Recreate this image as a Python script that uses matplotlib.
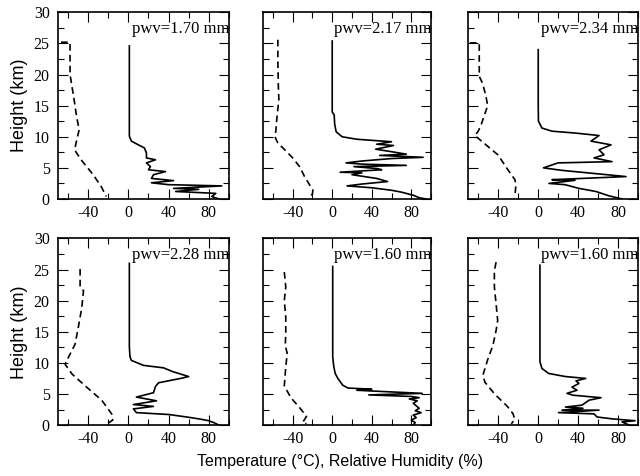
import matplotlib
matplotlib.use("Agg")
import matplotlib.pyplot as plt
from matplotlib.ticker import MultipleLocator

plt.rcParams['axes.unicode_minus'] = False

pwv_labels = ["pwv=1.70 mm", "pwv=2.17 mm", "pwv=2.34 mm",
              "pwv=2.28 mm", "pwv=1.60 mm", "pwv=1.60 mm"]

# temperature profiles (deg C) and heights (km)
temp_1 = [-67, -58, -58, -56, -54, -52, -49, -52, -53.5, -47, -35, -27, -22]
temp_h_1 = [25.2, 25.2, 20, 18, 16, 13.8, 11.1, 9.0, 7.9, 6.3, 3.9, 2.0, 0.4]
temp_2 = [-55, -55, -54.5, -54, -56, -57, -58, -55, -48, -40, -33, -28, -23, -19.6, -20, -23]
temp_h_2 = [25.6, 22, 18, 16, 13, 11, 10, 9, 7.9, 6.6, 5.2, 3.6, 2.3, 1.5, 0.8, 0.3]
temp_3 = [-68, -58.6, -58.6, -55.3, -52, -50.2, -53.6, -57, -60, -63, -40, -30, -23, -22, -23]
temp_h_3 = [25.1, 25.1, 19.7, 18.6, 16.6, 15, 13.4, 11.8, 10.8, 10.2, 7.1, 4.7, 3.1, 2.3, 0.4]
temp_4 = [-48, -48, -44.6, -46.3, -49.8, -53, -58, -63, -56, -41.5, -26.5, -16.6, -15.5, -21]
temp_h_4 = [25.1, 22.2, 21.6, 18.9, 15.7, 13.0, 11.4, 9.8, 8.2, 6.1, 4.0, 1.8, 0.8, 0.2]
temp_5 = [-48.5, -47, -48.5, -47, -47, -47.5, -45.5, -47, -48.5, -41.8, -33, -26, -30, -26]
temp_h_5 = [24.6, 22.2, 20.0, 17.4, 14.7, 12.8, 11.5, 9.4, 6.3, 4.4, 2.8, 1.4, 0.4, 0.2]
temp_6 = [-41.8, -43.5, -43.5, -41.8, -40.2, -41.8, -45, -50, -55, -53, -43.3, -30.5, -24.8, -23.2, -26.6]
temp_h_6 = [26.2, 24.8, 22.2, 19.5, 16.8, 15.2, 12.8, 10.6, 8.0, 6.9, 5.0, 3.0, 1.8, 0.9, 0.2]

# relative humidity profiles (%) and heights (km)
rh_1 = [1, 1, 3, 10, 16, 18, 18, 27, 18, 22, 20, 37, 25, 23, 45, 23, 40, 93, 45, 70, 47, 87, 83, 90]
rh_h_1 = [24.6, 10.1, 9.3, 8.7, 8.2, 7.4, 6.6, 6.3, 5.8, 5.2, 4.7, 4.4, 3.9, 3.3, 2.95, 2.6,
          2.3, 2.1, 1.7, 1.55, 1.2, 0.9, 0.4, 0]
rh_2 = [0, 0, 2, 2.5, 4, 10, 25, 60, 45, 62, 44, 60, 75, 48, 92, 60, 30, 14, 30, 75, 22, 45,
        50, 8, 30, 20, 45, 56, 30, 15, 40, 60, 70, 82, 88, 95]
rh_h_2 = [25.4, 14, 13.5, 12, 10.8, 10, 9.6, 9.2, 8.8, 8.6, 8.0, 7.6, 7.2, 7.0, 6.7, 6.5, 6.1,
          5.8, 5.6, 5.4, 5.2, 4.9, 4.7, 4.3, 4.2, 3.9, 3.3, 2.8, 2.4, 2.1, 1.8, 1.4, 1.1, 0.6,
          0.2, 0]
rh_3 = [0.3, 0.3, 0.5, 4, 14, 37, 61, 53, 73, 61, 66, 56, 74, 20, 5.5, 24, 88, 14, 37, 11, 27,
        41, 58, 71, 84]
rh_h_3 = [24.0, 14.9, 12.5, 11.4, 10.9, 10.6, 10.2, 9.3, 8.7, 7.9, 7.1, 6.6, 6.0, 5.8, 5.0,
          4.6, 3.6, 3.1, 3.0, 2.5, 2.3, 1.7, 1.2, 0.5, 0]
rh_4 = [1, 1, 1.6, 3, 15, 35, 44, 60, 52, 30, 27, 25, 8, 28, 5, 25, 5, 8, 40, 58, 70, 80, 85, 90]
rh_h_4 = [26, 12.6, 11, 10.4, 9.6, 9.2, 8.6, 7.8, 7.5, 6.8, 6.2, 5.2, 4.5, 3.9, 3.3, 3.0, 2.6,
          2.0, 1.7, 1.3, 1.0, 0.7, 0.4, 0]
rh_5 = [0.5, 0.5, 1.5, 3, 5.7, 10.7, 16, 30, 40, 25, 37, 91, 37, 80, 88, 78, 86, 82, 85, 88,
        84, 90, 82, 85, 80, 84, 82]
rh_h_5 = [25.5, 11, 9.5, 8.3, 7.5, 6.4, 5.95, 5.85, 5.75, 5.6, 5.5, 5.1, 4.85, 4.6, 4.4, 4.2,
          3.9, 3.5, 3.1, 2.7, 2.3, 2.0, 1.6, 1.2, 0.8, 0.4, 0]
rh_6 = [2, 2, 4, 10.7, 27.5, 47.7, 38, 41, 34, 39, 29, 35, 63, 51, 44, 27.5, 45, 24, 61, 20.6,
        56, 59, 74, 97, 84, 91]
rh_h_6 = [25.7, 10.2, 9.1, 8.3, 7.8, 7.5, 7.1, 6.7, 6.1, 5.6, 5.1, 4.8, 4.4, 4.0, 3.2, 2.9,
          2.7, 2.4, 2.4, 2.0, 1.8, 1.3, 1.0, 0.7, 0.5, 0]

temps = [(temp_1, temp_h_1), (temp_2, temp_h_2), (temp_3, temp_h_3),
         (temp_4, temp_h_4), (temp_5, temp_h_5), (temp_6, temp_h_6)]
rhs = [(rh_1, rh_h_1), (rh_2, rh_h_2), (rh_3, rh_h_3),
       (rh_4, rh_h_4), (rh_5, rh_h_5), (rh_6, rh_h_6)]

fig = plt.figure(figsize=(6.4, 4.76), dpi=100)

lefts = [0.0906, 0.411, 0.731]
widths = [0.267, 0.2625, 0.266]
bottoms = [0.582, 0.107]
height = 0.392

serif = 'Liberation Serif'
sans = 'Liberation Sans'

for i in range(6):
    row, col = divmod(i, 3)
    ax = fig.add_axes([lefts[col], bottoms[row], widths[col], height])
    t, th = temps[i]
    r, rh = rhs[i]
    ax.plot(t, th, color='black', lw=1.2, linestyle=(0, (4, 2.5)))
    ax.plot(r, rh, color='black', lw=1.2)
    ax.set_xlim(-70, 100)
    ax.set_ylim(0, 30)
    ax.xaxis.set_major_locator(MultipleLocator(40))
    ax.xaxis.set_minor_locator(MultipleLocator(20))
    ax.yaxis.set_major_locator(MultipleLocator(5))
    ax.yaxis.set_minor_locator(MultipleLocator(2.5))
    ax.set_xticks([-40, 0, 40, 80])
    ax.tick_params(which='both', direction='in', top=True, right=True, width=0.8)
    ax.tick_params(which='major', length=7)
    ax.tick_params(which='minor', length=4)
    ax.tick_params(axis='x', pad=4)
    ax.tick_params(axis='y', pad=6)
    for s in ax.spines.values():
        s.set_linewidth(1.2)
    for lab in ax.get_xticklabels() + ax.get_yticklabels():
        lab.set_fontfamily(serif)
        lab.set_fontsize(11.5)
    if col == 0:
        ax.set_yticks([0, 5, 10, 15, 20, 25, 30])
        ax.set_ylabel('Height (km)', fontfamily=sans, fontsize=13, labelpad=4)
    else:
        ax.set_yticklabels([])
    ax.text(100.5, 27.4, pwv_labels[i], ha='right', va='center',
            fontfamily=serif, fontsize=12)

fig.text(0.532, 0.03, 'Temperature (\u00b0C), Relative Humidity (%)',
         ha='center', va='center', fontfamily=sans, fontsize=11.5)

fig.savefig('out.png', dpi=100)
